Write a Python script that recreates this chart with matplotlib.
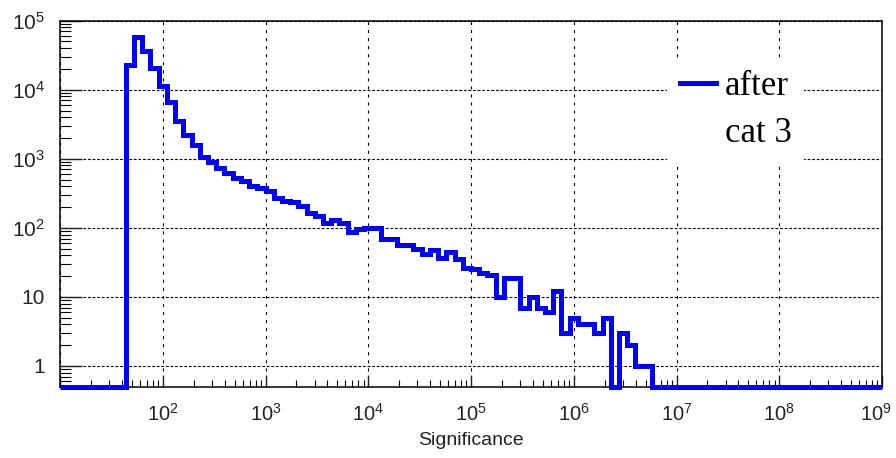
import numpy as np
import matplotlib
matplotlib.use("Agg")
import matplotlib.pyplot as plt
import matplotlib.transforms as mtransforms
from matplotlib.ticker import LogLocator, FuncFormatter, NullFormatter
from matplotlib.lines import Line2D

# ---------------- data ----------------
# 100 logarithmic bins between 10^1 and 10^9 (edges given as log10 values)
log_edges = np.linspace(1.0, 9.0, 101)
counts = [
    0, 0, 0, 0, 0, 0, 0, 0,
    23000, 58000, 36000, 20500, 11500, 6700, 3500, 2200, 1600, 1050,
    900, 740, 620, 530, 470, 410, 380, 340, 270, 245,
    240, 210, 165, 148, 116, 132, 116, 88, 95, 100,
    100, 68, 70, 57, 56, 50, 42, 47, 37, 45,
    35, 26, 25, 22, 21, 10, 19, 19, 7, 10,
    7, 6, 12, 3, 5, 4, 4, 3, 5, 0,
    3, 2, 1, 1,
    0, 0, 0, 0, 0, 0, 0, 0, 0, 0, 0, 0, 0, 0,
    0, 0, 0, 0, 0, 0, 0, 0, 0, 0, 0, 0, 0, 0,
]
series_label = ["after", "cat 3"]
x_title = "Significance"
x_limits = (1e1, 1e9)
y_limits = (0.5, 1e5)

# ---------------- style ----------------
plt.rcParams["lines.scale_dashes"] = False
plt.rcParams["font.family"] = ["Liberation Sans", "DejaVu Sans"]

fig = plt.figure(figsize=(8.96, 4.58), dpi=100)
ax = fig.add_axes([60 / 896, 1 - 386.7 / 458, 822 / 896, 366 / 458])
ax.set_xscale("log")
ax.set_yscale("log")
ax.set_xlim(*x_limits)
ax.set_ylim(*y_limits)

edges = 10.0 ** log_edges
vals = np.asarray(counts, dtype=float)
plot_vals = np.where(vals > 0, vals, y_limits[0])
hist = ax.stairs(plot_vals, edges, baseline=None, color="#0000ff", lw=3.6,
                 clip_on=False, zorder=3)

# grid
ax.grid(True, which="major", axis="x", color="black", lw=0.8,
        linestyle=(0, (2.2, 3.6)))
ax.grid(True, which="major", axis="y", color="black", lw=0.8,
        linestyle=(0, (2.0, 1.3)))

# ticks
ax.xaxis.set_major_locator(LogLocator(base=10, numticks=20))
ax.xaxis.set_minor_locator(LogLocator(base=10, subs=np.arange(2, 10), numticks=20))
ax.yaxis.set_major_locator(LogLocator(base=10, numticks=20))
ax.yaxis.set_minor_locator(LogLocator(base=10, subs=np.arange(2, 10), numticks=20))


def xfmt(v, pos):
    e = int(round(np.log10(v)))
    if e <= 1:
        return ""
    return r"$\mathdefault{10^{%d}}$" % e


def yfmt(v, pos):
    e = int(round(np.log10(v)))
    if e == 0:
        return "1"
    if e == 1:
        return "10"
    return r"$\mathdefault{10^{%d}}$" % e


ax.xaxis.set_major_formatter(FuncFormatter(xfmt))
ax.yaxis.set_major_formatter(FuncFormatter(yfmt))
ax.xaxis.set_minor_formatter(NullFormatter())
ax.yaxis.set_minor_formatter(NullFormatter())

ax.tick_params(axis="y", which="major", direction="in", length=15.5, width=1.0,
               left=True, right=False, pad=11, labelsize=15, colors="#222222")
ax.tick_params(axis="y", which="minor", direction="in", length=8, width=0.8,
               left=True, right=False)
ax.tick_params(axis="x", which="major", direction="in", length=9, width=1.0,
               bottom=True, top=False, pad=12, labelsize=14.5, colors="#222222")
ax.tick_params(axis="x", which="minor", direction="in", length=4.7, width=0.8,
               bottom=True, top=False)

for s in ax.spines.values():
    s.set_linewidth(1.1)
    s.set_color("black")

ax.set_xlabel(x_title, fontsize=14, labelpad=5, color="#222222")

# legend (ROOT-style, no border)
handles = [Line2D([], [], color="#0000ff", lw=3.6), Line2D([], [], alpha=0)]
leg = ax.legend(handles, series_label, loc="upper left",
                bbox_to_anchor=(0.739, 0.898), borderaxespad=0, borderpad=0.35,
                frameon=True, fancybox=False, framealpha=1, facecolor="white",
                edgecolor="none", handlelength=1.04, handletextpad=0.26,
                labelspacing=0.4,
                prop={"family": "Liberation Serif", "size": 25})
leg.set_zorder(4)

# keep the rightmost x label (10^9) inside the figure, as in the reference
fig.canvas.draw()
last_tick = ax.xaxis.get_major_ticks()
for t in last_tick:
    if abs(np.log10(t.get_loc()) - 9) < 1e-6:
        t.label1.set_transform(t.label1.get_transform() +
                               mtransforms.ScaledTranslation(-6 / 100, 0, fig.dpi_scale_trans))

fig.savefig("out.png", dpi=100)
